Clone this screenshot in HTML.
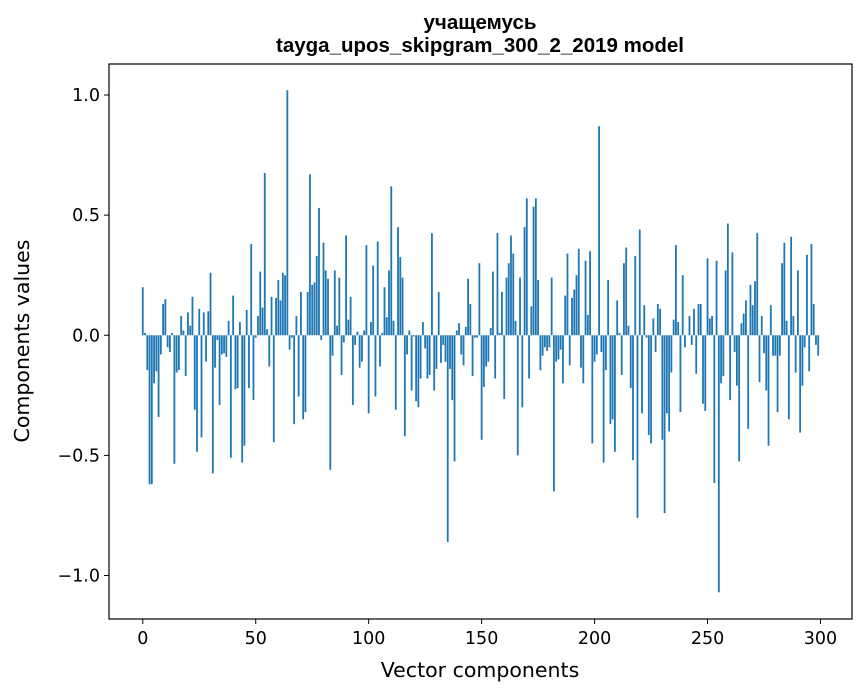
<!DOCTYPE html>
<html><head><meta charset="utf-8"><style>
body{margin:0;background:#fff;font-family:"DejaVu Sans","Liberation Sans",sans-serif;}
</style></head><body>
<svg width="867" height="696" xmlns="http://www.w3.org/2000/svg" font-family="DejaVu Sans, Liberation Sans, sans-serif">
<text x="480" y="29" text-anchor="middle" font-size="20.5" font-weight="bold" font-family="Liberation Sans, Arial, sans-serif">учащемусь</text>
<text x="480" y="52" text-anchor="middle" font-size="20.5" font-weight="bold" font-family="Liberation Sans, Arial, sans-serif">tayga_upos_skipgram_300_2_2019 model</text>
<g id="bars"></g>
<rect x="109" y="64" width="743" height="555" fill="none" stroke="#000" stroke-width="1.2"/>
<g id="xt"></g>
<g id="yt"></g>
<text x="480" y="677" text-anchor="middle" font-size="20.5">Vector components</text>
<text transform="translate(29,341) rotate(-90)" text-anchor="middle" font-size="20.5">Components values</text>
</svg>
<script>
const values = [0.20,0.01,-0.145,-0.62,-0.62,-0.20,-0.15,-0.34,-0.08,0.13,0.15,-0.05,-0.07,0.01,-0.535,-0.155,-0.145,0.08,0.02,-0.17,
0.095,0.04,0.16,-0.31,-0.485,0.11,-0.425,0.095,-0.11,0.10,0.26,-0.575,-0.135,-0.02,-0.29,-0.08,-0.075,-0.09,0.06,-0.51,
0.165,-0.225,-0.22,0.055,-0.53,-0.46,0.105,-0.22,0.38,-0.27,-0.01,0.08,0.265,0.115,0.675,0.025,-0.13,0.16,-0.445,0.155,
0.23,0.145,0.26,0.25,1.02,-0.06,-0.01,-0.37,0.08,-0.255,0.18,-0.35,-0.32,0.18,0.67,0.21,0.22,0.33,0.53,-0.02,
0.385,0.27,0.235,-0.56,-0.085,0.27,0.04,0.24,-0.165,-0.03,0.415,0.065,0.16,-0.29,-0.04,0.015,-0.135,-0.11,0.02,0.375,
-0.325,0.055,0.29,-0.255,0.39,-0.13,0.01,0.20,0.075,0.27,0.62,0.06,-0.31,0.45,0.325,0.24,-0.42,-0.08,0.02,-0.23,
-0.005,-0.275,-0.30,-0.18,0.055,-0.055,-0.18,-0.165,0.425,-0.23,-0.14,0.18,-0.115,-0.04,-0.11,-0.86,-0.14,-0.27,-0.525,0.02,
0.05,-0.08,-0.125,0.035,0.235,0.13,-0.17,-0.01,-0.01,0.30,-0.435,-0.215,-0.13,-0.11,0.03,0.265,-0.18,0.425,0.01,0.18,
-0.265,0.24,0.30,0.415,0.34,0.06,-0.50,0.24,-0.30,0.45,0.57,-0.18,0.12,0.535,0.57,0.23,-0.145,-0.085,-0.05,-0.065,
-0.05,0.24,-0.65,-0.11,-0.10,-0.06,-0.20,0.165,0.34,-0.125,0.155,0.19,0.25,0.36,-0.135,-0.20,0.31,0.085,0.35,-0.45,
-0.11,-0.08,0.87,-0.07,-0.53,-0.145,0.23,-0.37,-0.35,-0.485,0.145,0.01,-0.165,0.30,0.365,0.04,-0.22,-0.52,0.33,-0.76,
0.44,-0.325,0.125,-0.01,-0.415,-0.45,0.07,-0.07,0.13,0.11,-0.435,-0.74,-0.325,-0.40,-0.155,0.065,0.375,0.055,-0.32,0.25,
-0.05,0.0,0.08,-0.04,0.11,-0.16,0.13,0.13,-0.285,-0.315,0.32,0.07,0.08,-0.615,0.31,-1.07,-0.20,-0.17,0.27,0.465,
-0.27,0.345,-0.07,-0.21,-0.525,0.05,0.09,0.145,-0.39,0.21,0.125,0.225,0.425,-0.195,0.08,-0.075,-0.23,-0.46,0.125,-0.085,
-0.085,-0.32,-0.085,0.30,0.385,0.06,-0.35,0.41,0.08,-0.155,0.27,-0.405,-0.21,-0.05,0.335,-0.15,0.38,0.13,-0.04,-0.085];
const xTicks = [0,50,100,150,200,250,300];
const yTicks = [-1.0,-0.5,0.0,0.5,1.0];
const yTickLabels = ["−1.0","−0.5","0.0","0.5","1.0"];
const NS="http://www.w3.org/2000/svg";
const X0=109,X1=852,Y0=64,Y1=619,xmin=-14.95,xmax=313.95,ymin=-1.181,ymax=1.129;
const sx=v=>X0+(v-xmin)/(xmax-xmin)*(X1-X0);
const sy=v=>Y1-(v-ymin)/(ymax-ymin)*(Y1-Y0);
const bars=document.getElementById('bars');
values.forEach((v,i)=>{
  const r=document.createElementNS(NS,'rect');
  const xa=sx(i-0.4),xb=sx(i+0.4);
  r.setAttribute('x',xa);r.setAttribute('width',xb-xa);
  r.setAttribute('y',Math.min(sy(v),sy(0)));r.setAttribute('height',Math.abs(sy(v)-sy(0)));
  r.setAttribute('fill','#1f77b4');
  
  
  bars.appendChild(r);
});
const xt=document.getElementById('xt');
xTicks.forEach(t=>{
  const l=document.createElementNS(NS,'line');
  l.setAttribute('x1',sx(t));l.setAttribute('x2',sx(t));l.setAttribute('y1',Y1);l.setAttribute('y2',Y1+5);l.setAttribute('stroke','#000');
  
  
  xt.appendChild(l);
  const s=document.createElementNS(NS,'text');
  s.setAttribute('x',sx(t));s.setAttribute('y',Y1+25);s.setAttribute('text-anchor','middle');s.setAttribute('font-size','17.5');
  s.textContent=t;
  
  
  xt.appendChild(s);
});
const yt=document.getElementById('yt');
yTicks.forEach((t,k)=>{
  const l=document.createElementNS(NS,'line');
  l.setAttribute('x1',X0-5);l.setAttribute('x2',X0);l.setAttribute('y1',sy(t));l.setAttribute('y2',sy(t));l.setAttribute('stroke','#000');
  
  
  yt.appendChild(l);
  const s=document.createElementNS(NS,'text');
  s.setAttribute('x',X0-9);s.setAttribute('y',sy(t)+6);s.setAttribute('text-anchor','end');s.setAttribute('font-size','17.5');
  s.textContent=yTickLabels[k];
  
  
  yt.appendChild(s);
});
</script>
</body></html>
